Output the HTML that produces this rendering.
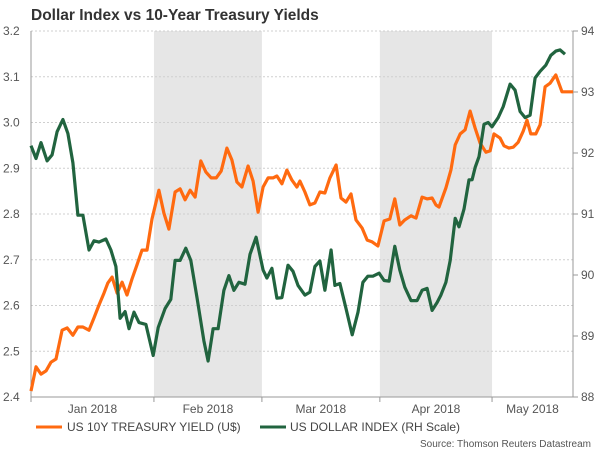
<!DOCTYPE html>
<html><head><meta charset="utf-8"><style>
body{margin:0;background:#fff;font-family:"Liberation Sans",sans-serif}
svg text{font-family:"Liberation Sans",sans-serif}
</style></head><body>
<svg width="600" height="450" viewBox="0 0 600 450">
<text x="31" y="20" font-size="15.5" font-weight="bold" fill="#333">Dollar Index vs 10-Year Treasury Yields</text>
<g id="plot"></g>
</svg>
<script>
const monthDays=[0,32,60.1,90.8,120];
const monthLabels=["Jan 2018","Feb 2018","Mar 2018","Apr 2018","May 2018"];
const leftTicks=[2.4,2.5,2.6,2.7,2.8,2.9,3.0,3.1,3.2];
const rightTicks=[88,89,90,91,92,93,94];
const yieldDays=[0,1.3,2.6,3.9,5.2,6.5,8.1,9.4,10.9,12.2,13.5,15.1,16.4,17.7,19.0,20.0,21.1,22.4,23.7,25.0,26.3,27.6,28.9,30.2,31.5,33.3,34.6,35.9,37.5,38.8,40.1,41.4,42.7,44.2,45.5,46.9,48.2,49.5,51.0,52.3,53.6,54.9,56.5,57.8,59.1,60.4,61.7,63.0,64.0,65.3,66.6,67.9,69.2,70.0,71.3,72.6,73.9,75.2,76.5,77.8,79.4,80.7,82.0,83.3,84.6,86.2,87.5,88.8,90.3,91.9,93.4,94.7,96.0,97.3,98.9,100.2,101.8,103.1,104.4,105.4,106.2,108.0,109.3,110.4,111.7,113.0,114.3,115.6,116.9,118.4,119.5,120.5,122.1,123.1,124.4,125.5,126.8,128.1,129.1,130.1,131.4,132.5,133.8,135.1,136.6,138.2,141.1];
const yieldValues=[2.413,2.466,2.450,2.457,2.476,2.483,2.546,2.551,2.535,2.553,2.553,2.546,2.573,2.601,2.627,2.649,2.662,2.627,2.651,2.623,2.658,2.689,2.721,2.721,2.789,2.852,2.802,2.767,2.848,2.855,2.831,2.852,2.837,2.916,2.892,2.879,2.879,2.894,2.944,2.918,2.870,2.859,2.905,2.872,2.804,2.859,2.879,2.879,2.883,2.866,2.896,2.874,2.859,2.872,2.848,2.820,2.824,2.848,2.846,2.879,2.907,2.835,2.826,2.844,2.787,2.769,2.743,2.739,2.730,2.785,2.789,2.833,2.776,2.787,2.796,2.791,2.837,2.833,2.835,2.820,2.815,2.857,2.896,2.951,2.975,2.984,3.025,2.988,2.955,2.935,2.938,2.975,2.966,2.949,2.944,2.946,2.957,2.981,3.005,2.975,2.975,2.995,3.078,3.086,3.104,3.067,3.067];
const dxyDays=[0,1.3,2.6,4.2,5.5,6.8,8.3,9.6,10.9,12.2,13.5,15.1,16.4,17.7,19.5,20.8,22.1,23.2,24.5,25.5,26.8,28.1,29.9,31.8,33.1,34.9,36.4,37.5,38.8,40.3,41.6,43.2,45.0,46.1,47.4,48.7,50.2,51.5,52.8,54.1,55.7,57.0,58.6,60.4,61.4,62.7,64.0,65.3,66.9,68.2,69.5,71.3,72.6,73.9,75.2,76.5,78.1,79.1,80.4,82.0,83.6,85.1,86.4,87.7,89.0,90.6,91.9,93.2,94.7,96.0,97.3,98.9,100.5,101.8,103.1,104.4,105.7,106.7,108.0,109.1,110.4,111.4,112.7,114.0,114.8,115.6,116.6,117.9,119.0,120.0,121.6,122.9,124.7,126.0,127.3,128.6,129.9,131.2,132.5,134.0,135.3,136.6,137.7,139.0];
const dxyValues=[92.12,91.91,92.17,91.87,91.97,92.35,92.55,92.32,91.84,90.98,90.98,90.41,90.56,90.54,90.59,90.41,90.14,89.29,89.40,89.12,89.39,89.22,89.19,88.68,89.14,89.45,89.60,90.24,90.24,90.44,90.24,89.63,88.92,88.59,89.12,89.12,89.75,89.99,89.75,89.88,89.85,90.34,90.62,90.08,89.95,90.11,89.62,89.63,90.16,90.06,89.83,89.67,89.72,90.14,90.23,89.75,90.41,89.83,89.86,89.45,89.02,89.39,89.88,89.98,89.98,90.03,89.91,89.90,90.47,90.08,89.80,89.58,89.58,89.75,89.78,89.42,89.55,89.67,89.88,90.24,90.93,90.79,91.08,91.56,91.56,91.76,91.94,92.47,92.50,92.43,92.58,92.76,93.13,93.03,92.68,92.58,92.62,93.23,93.34,93.44,93.60,93.67,93.69,93.62];

const X0=31,X1=573,YT=31,YB=397;
const xs=d=>X0+d*3.842;
const yl=v=>YB-(v-2.4)/0.8*(YB-YT);
const yr=v=>YB-(v-88)/6*(YB-YT);
const NS="http://www.w3.org/2000/svg";
const g=document.getElementById('plot');
function mk(t,a){const e=document.createElementNS(NS,t);for(const k in a)e.setAttribute(k,a[k]);g.appendChild(e);return e;}

[1,3].forEach(i=>{
  const end=i+1<monthDays.length?xs(monthDays[i+1]):X1;
  const r=mk('rect',{x:xs(monthDays[i]),y:YT,width:end-xs(monthDays[i]),height:YB-YT,fill:'#e6e6e6'});
  
  
});
leftTicks.forEach(v=>{
  const y=yl(v);
  const l=mk('line',{x1:X0,x2:X1,y1:y,y2:y,stroke:'#cfcfcf','stroke-width':1,'stroke-dasharray':'2,2'});
  
  
  const t=mk('text',{x:3,y:y+4,'font-size':12,fill:'#555'});
  t.textContent=v.toFixed(1);
  
  
});
rightTicks.forEach(v=>{
  const y=yr(v);
  const tk=mk('line',{x1:X1,x2:X1+5,y1:y,y2:y,stroke:'#999'});
  
  
  const t=mk('text',{x:581,y:y+4,'font-size':12,fill:'#555'});
  t.textContent=v;
  
  
});
const la=mk('line',{x1:X0,x2:X0,y1:YT,y2:YB,stroke:'#999'});


const ra=mk('line',{x1:X1,x2:X1,y1:YT,y2:YB,stroke:'#999'});


const ba=mk('line',{x1:X0,x2:X1,y1:YB,y2:YB,stroke:'#999'});


monthDays.forEach((d,i)=>{
  const x=xs(d);
  const tk=mk('line',{x1:x,x2:x,y1:YB,y2:YB+5,stroke:'#999'});
  
  
  const nx=i+1<monthDays.length?xs(monthDays[i+1]):X1;
  const t=mk('text',{x:(x+nx)/2,y:413,'font-size':12,fill:'#555','text-anchor':'middle'});
  t.textContent=monthLabels[i];
  
  
});
function line(days,vals,sc,col,name){
  const p=mk('polyline',{points:days.map((d,i)=>xs(d).toFixed(1)+','+sc(vals[i]).toFixed(1)).join(' '),fill:'none',stroke:col,'stroke-width':3.2,'stroke-linejoin':'round'});
  
  
}
line(yieldDays,yieldValues,yl,'#ff6a10','treasury-yield-line');
line(dxyDays,dxyValues,yr,'#21643f','dollar-index-line');
const l1=mk('line',{x1:36,x2:62,y1:427,y2:427,stroke:'#ff6a10','stroke-width':3});


const t1=mk('text',{x:67,y:431,'font-size':12,fill:'#444'});t1.textContent='US 10Y TREASURY YIELD (U$)';


const l2=mk('line',{x1:260,x2:286,y1:427,y2:427,stroke:'#21643f','stroke-width':3});


const t2=mk('text',{x:290,y:431,'font-size':12,fill:'#444'});t2.textContent='US DOLLAR INDEX (RH Scale)';


const s=mk('text',{x:591,y:447,'font-size':10,fill:'#555','text-anchor':'end'});s.textContent='Source: Thomson Reuters Datastream';


</script>
</body></html>
